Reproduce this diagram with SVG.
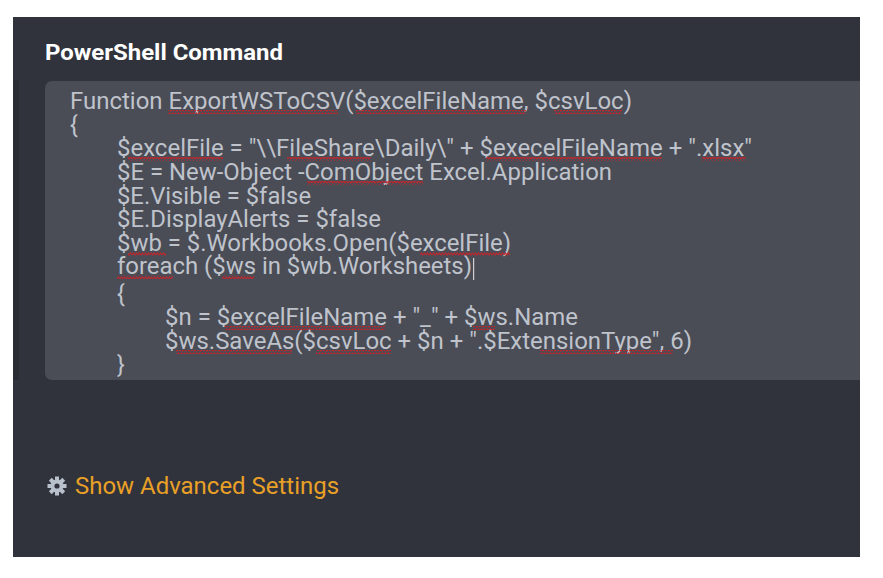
<svg xmlns="http://www.w3.org/2000/svg" width="883" height="578" viewBox="0 0 883 578">
<defs>
<style>
.code{font-family:Roboto,"Liberation Sans",sans-serif;font-size:23px;fill:#bfc3cb}
</style>
<pattern id="wave" width="6" height="4" patternUnits="userSpaceOnUse">
<path d="M0 3 L1.5 1 L3 3 L4.5 1 L6 3" fill="none" stroke="#c0262c" stroke-width="1.1"/>
</pattern>
<clipPath id="panel"><rect x="13" y="17" width="847" height="540"/></clipPath>
</defs>
<rect width="883" height="578" fill="#fff"/>
<rect x="13" y="17" width="847" height="540" fill="#31333c"/>
<rect x="13" y="80" width="6" height="300" fill="#2a2c33"/>
<g id="title"><text x="45" y="60" font-family="Roboto,'Liberation Sans',sans-serif" font-weight="bold" font-size="22" fill="#fff" textLength="238" lengthAdjust="spacingAndGlyphs">PowerShell Command</text></g>
<g id="code" clip-path="url(#panel)">
<rect x="45" y="81" width="830" height="299" rx="7" fill="#4a4c56"/>
<text class="code" x="70" y="109" textLength="562" lengthAdjust="spacingAndGlyphs">Function ExportWSToCSV($excelFileName, $csvLoc)</text>
<text class="code" x="70" y="133">{</text>
<text class="code" x="117" y="156" textLength="635" lengthAdjust="spacingAndGlyphs">$excelFile = "\\FileShare\Daily\" + $execelFileName + ".xlsx"</text>
<text class="code" x="117" y="180" textLength="495" lengthAdjust="spacingAndGlyphs">$E = New-Object -ComObject Excel.Application</text>
<text class="code" x="117" y="204" textLength="194" lengthAdjust="spacingAndGlyphs">$E.Visible = $false</text>
<text class="code" x="117" y="227" textLength="264" lengthAdjust="spacingAndGlyphs">$E.DisplayAlerts = $false</text>
<text class="code" x="117" y="251" textLength="394" lengthAdjust="spacingAndGlyphs">$wb = $.Workbooks.Open($excelFile)</text>
<text class="code" x="117" y="274" textLength="355" lengthAdjust="spacingAndGlyphs">foreach ($ws in $wb.Worksheets)</text>
<rect x="473" y="258" width="1.2" height="22" fill="#d0d0d0"/>
<text class="code" x="117" y="302">{</text>
<text class="code" x="165" y="325" textLength="413" lengthAdjust="spacingAndGlyphs">$n = $excelFileName + "_" + $ws.Name</text>
<text class="code" x="165" y="349" textLength="527" lengthAdjust="spacingAndGlyphs">$ws.SaveAs($csvLoc + $n + ".$ExtensionType", 6)</text>
<text class="code" x="117" y="373">}</text>
<g fill="url(#wave)">
<rect x="168" y="110" width="170" height="4"/>
<rect x="356" y="110" width="170" height="4"/>
<rect x="554" y="110" width="68" height="4"/>
<rect x="128" y="157" width="95" height="4"/>
<rect x="287" y="157" width="84" height="4"/>
<rect x="486" y="157" width="176" height="4"/>
<rect x="702" y="157" width="44" height="4"/>
<rect x="307" y="181" width="116" height="4"/>
<rect x="128" y="252" width="38" height="4"/>
<rect x="420" y="252" width="90" height="4"/>
<rect x="117" y="275" width="56" height="4"/>
<rect x="222" y="275" width="32" height="4"/>
<rect x="225" y="326" width="160" height="4"/>
<rect x="473" y="326" width="22" height="4"/>
<rect x="176" y="350" width="116" height="4"/>
<rect x="316" y="350" width="75" height="4"/>
<rect x="540" y="350" width="133" height="4"/>
</g>
</g>
<g id="advanced">
<g transform="translate(57,486)" fill="#b8c0cc">
<circle r="6.5"/>
<rect x="-2" y="-9.5" width="4" height="19"/><rect x="-2" y="-9.5" width="4" height="19" transform="rotate(45)"/><rect x="-2" y="-9.5" width="4" height="19" transform="rotate(90)"/><rect x="-2" y="-9.5" width="4" height="19" transform="rotate(135)"/>
<circle r="2.6" fill="#31333c"/>
</g>
<text x="75" y="494" font-family="Roboto,'Liberation Sans',sans-serif" font-size="23" fill="#e9a027" textLength="264" lengthAdjust="spacingAndGlyphs">Show Advanced Settings</text>
</g>
</svg>
